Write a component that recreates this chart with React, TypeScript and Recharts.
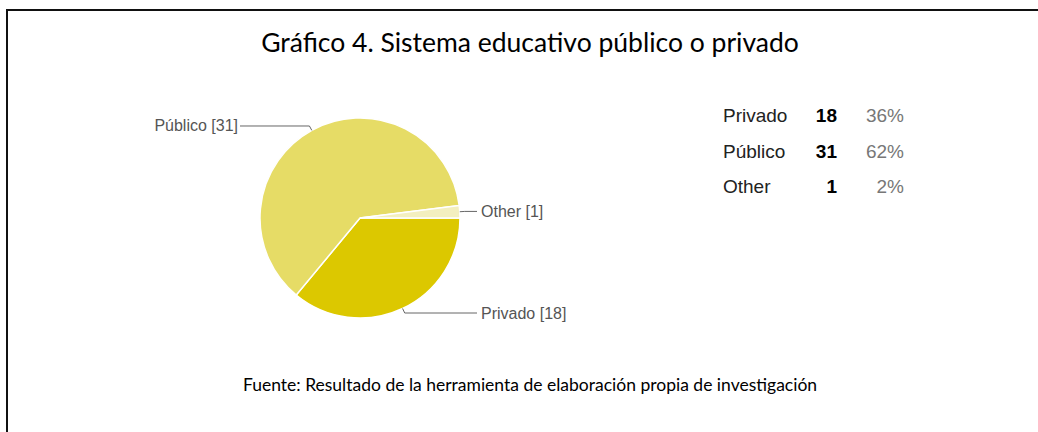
import { PieChart, Pie, Cell } from 'recharts';

const categories = ['Privado', 'Público', 'Other'];
const counts = [18, 31, 1];
const percents = ['36%', '62%', '2%'];
const sliceColors = ['#dcc800', '#e6dc66', '#f3efbf'];

const titleText = 'Gráfico 4. Sistema educativo público o privado';
const sourceText = 'Fuente: Resultado de la herramienta de elaboración propia de investigación';

const RAD = Math.PI / 180;

const pieData = categories.map((name, i) => ({ name, value: counts[i] }));

function renderLabel(props: any) {
  const { cx, cy, midAngle, outerRadius, name, value } = props;
  const cos = Math.cos(-midAngle * RAD);
  const sin = Math.sin(-midAngle * RAD);
  const x0 = cx + outerRadius * cos;
  const y0 = cy + outerRadius * sin;
  const x1 = cx + (outerRadius + 5) * cos;
  const y1 = cy + (outerRadius + 5) * sin;
  const left = cos < 0;
  const x2 = left ? cx - 120 : cx + 117;
  const tx = left ? cx - 122 : cx + 121;
  return (
    <g>
      <path d={`M${x0},${y0}L${x1},${y1}L${x2},${y1}`} stroke="#666" strokeWidth={1} fill="none" />
      <text
        x={tx}
        y={y1}
        textAnchor={left ? 'end' : 'start'}
        dominantBaseline="central"
        fill="#555"
        fontSize={16}
        fontFamily="'Liberation Sans', Arial, sans-serif"
      >
        {`${name} [${value}]`}
      </text>
    </g>
  );
}

export default function App() {
  return (
    <div
      style={{
        position: 'absolute',
        left: 0,
        top: 0,
        width: 1038,
        height: 432,
        background: '#fff',
        overflow: 'hidden',
      }}
    >
      {/* frame: only left and top edges show in the crop */}
      <div
        style={{
          position: 'absolute',
          left: 6,
          top: 9,
          width: 1100,
          height: 500,
          borderLeft: '2px solid #111',
          borderTop: '2px solid #111',
        }}
      />
      <div
        style={{
          position: 'absolute',
          left: 0,
          top: 25,
          width: 1060,
          textAlign: 'center',
          fontFamily: 'Lato, sans-serif',
          fontSize: 26.5,
          lineHeight: '34px',
          color: '#000',
        }}
      >
        {titleText}
      </div>
      <div style={{ position: 'absolute', left: 0, top: 0 }}>
        <PieChart width={1038} height={432} margin={{ top: 0, right: 0, bottom: 0, left: 0 }}>
          <Pie
            data={pieData}
            dataKey="value"
            nameKey="name"
            cx={360}
            cy={218}
            outerRadius={100}
            startAngle={0}
            endAngle={-360}
            stroke="#fff"
            strokeWidth={1.5}
            label={renderLabel}
            labelLine={false}
            isAnimationActive={false}
          >
            {pieData.map((_, i) => (
              <Cell key={`cell-${i}`} fill={sliceColors[i]} />
            ))}
          </Pie>
        </PieChart>
      </div>
      {/* summary table */}
      {categories.map((name, i) => (
        <div
          key={name}
          style={{
            position: 'absolute',
            left: 723,
            top: 104 + i * 35.5,
            height: 24,
            width: 190,
            fontFamily: "'Liberation Sans', Arial, sans-serif",
            fontSize: 19,
            lineHeight: '24px',
          }}
        >
          <span style={{ position: 'absolute', left: 0, color: '#222' }}>{name}</span>
          <span
            style={{ position: 'absolute', right: 190 - 114, fontWeight: 'bold', color: '#000' }}
          >
            {counts[i]}
          </span>
          <span style={{ position: 'absolute', right: 190 - 181, color: '#777' }}>
            {percents[i]}
          </span>
        </div>
      ))}
      <div
        style={{
          position: 'absolute',
          left: 0,
          top: 374,
          width: 1060,
          textAlign: 'center',
          fontFamily: 'Lato, sans-serif',
          fontSize: 17.5,
          lineHeight: '22px',
          color: '#000',
        }}
      >
        {sourceText}
      </div>
    </div>
  );
}
